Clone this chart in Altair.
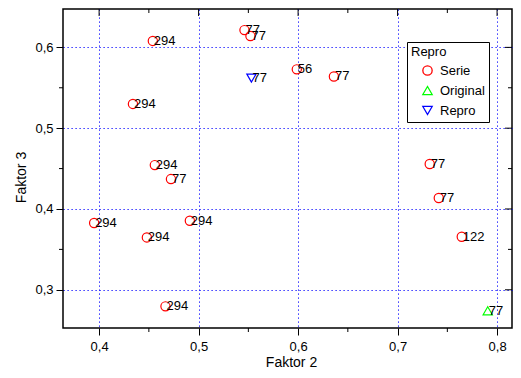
import altair as alt
import pandas as pd

# ---- data ----
serie_x = [0.454, 0.5461, 0.5521, 0.434, 0.5987, 0.636, 0.456, 0.4722, 0.7323,
           0.7414, 0.395, 0.4912, 0.448, 0.7645, 0.4667]
serie_y = [0.608, 0.6214, 0.614, 0.530, 0.5728, 0.564, 0.4543, 0.437, 0.4556,
           0.4136, 0.3827, 0.3855, 0.3648, 0.3657, 0.2795]
serie_lab = ["294", "77", "77", "294", "56", "77", "294", "77", "77",
             "77", "294", "294", "294", "122", "294"]

original_x = [0.7906]
original_y = [0.274]
original_lab = ["77"]

repro_x = [0.5531]
repro_y = [0.562]
repro_lab = ["77"]

series_names = ["Serie", "Original", "Repro"]
series_colors = ["#FF0000", "#00FF00", "#0000FF"]
series_shapes = ["circle", "triangle-up", "triangle-down"]

x_major = [0.4, 0.5, 0.6, 0.7, 0.8]
x_minor = [0.45, 0.55, 0.65, 0.75]
y_major = [0.3, 0.4, 0.5, 0.6]
y_minor = [0.35, 0.45, 0.55]

rows = []
for name, xs_, ys_, ls_ in [("Serie", serie_x, serie_y, serie_lab),
                            ("Original", original_x, original_y, original_lab),
                            ("Repro", repro_x, repro_y, repro_lab)]:
    for a, b, c in zip(xs_, ys_, ls_):
        rows.append({"f2": a, "f3": b, "lab": c, "grp": name})
df = pd.DataFrame(rows)

FONT = "Liberation Sans"
W, H = 449, 319
xscale = alt.Scale(domain=[0.3637, 0.815], nice=False, zero=False)
yscale = alt.Scale(domain=[0.2527, 0.6475], nice=False, zero=False)
lab_expr = "replace(format(datum.value, '.1f'), '.', ',')"
GRID_DASH = [1.2, 2.8]

x_axis = alt.Axis(values=x_major, title="Faktor 2", labelExpr=lab_expr,
                  grid=True, gridColor="#0000FF", gridDash=GRID_DASH, gridWidth=1,
                  domain=False, ticks=True, tickSize=7, tickColor="black", tickWidth=1,
                  labelFont=FONT, labelFontSize=13, labelColor="black",
                  labelBaseline="alphabetic", labelPadding=15,
                  titleFont=FONT, titleFontSize=14, titleFontWeight="normal",
                  titleColor="black", titleBaseline="alphabetic", titleAlign="center",
                  titleX=228, titleY=38)
y_axis = alt.Axis(values=y_major, title="Faktor 3", labelExpr=lab_expr,
                  grid=True, gridColor="#0000FF", gridDash=GRID_DASH, gridWidth=1,
                  domain=False, ticks=True, tickSize=7, tickColor="black", tickWidth=1,
                  labelFont=FONT, labelFontSize=13, labelColor="black",
                  labelBaseline="middle", labelPadding=3,
                  titleFont=FONT, titleFontSize=14, titleFontWeight="normal",
                  titleColor="black", titleBaseline="alphabetic", titleAlign="center",
                  titleAngle=-90, titleX=-38, titleY=168)

legend = alt.Legend(title="Repro", orient="none", legendX=344, legendY=33,
                    strokeColor="black", fillColor="white", padding=4,
                    titleFont=FONT, titleFontSize=13, titleFontWeight="normal",
                    titleColor="black", titlePadding=5,
                    labelFont=FONT, labelFontSize=13, labelColor="black",
                    symbolSize=87, symbolStrokeWidth=1.3, symbolOffset=10,
                    labelOffset=6, rowPadding=5)

base = alt.Chart(df)
points = base.mark_point(filled=False, size=85, strokeWidth=1.2, opacity=1).encode(
    x=alt.X("f2:Q", scale=xscale, axis=x_axis),
    y=alt.Y("f3:Q", scale=yscale, axis=y_axis),
    color=alt.Color("grp:N", scale=alt.Scale(domain=series_names, range=series_colors), legend=legend),
    shape=alt.Shape("grp:N", scale=alt.Scale(domain=series_names, range=series_shapes), legend=legend),
)
labels = base.mark_text(align="left", baseline="middle", dx=1, font=FONT, fontSize=13,
                        color="black").encode(
    x=alt.X("f2:Q", scale=xscale, axis=None),
    y=alt.Y("f3:Q", scale=yscale, axis=None),
    text="lab:N",
)

def xticks(vals, y0, y1):
    return alt.Chart(pd.DataFrame({"t": vals})).mark_rule(color="black", strokeWidth=1).encode(
        x=alt.X("t:Q", scale=xscale, axis=None), y=alt.value(y0), y2=alt.value(y1))

def yticks(vals, x0, x1):
    return alt.Chart(pd.DataFrame({"t": vals})).mark_rule(color="black", strokeWidth=1).encode(
        y=alt.Y("t:Q", scale=yscale, axis=None), x=alt.value(x0), x2=alt.value(x1))

tick_layers = [
    xticks(x_minor, H, H + 4),      # bottom minor (outward)
    xticks(x_major, 0, 7),          # top major (inward)
    xticks(x_minor, 0, 4),          # top minor (inward)
    yticks(y_minor, 0, -4),         # left minor (outward)
    yticks(y_major, W, W - 7),      # right major (inward)
    yticks(y_minor, W, W - 4),      # right minor (inward)
]

chart = alt.layer(points, labels, *tick_layers).resolve_axis(
    x="independent", y="independent"
).properties(
    width=W, height=H,
    autosize=alt.AutoSizeParams(type="none"),
    padding={"left": 55, "top": 1, "right": 1, "bottom": 42},
    background="white",
).configure_view(stroke="black", strokeWidth=1.5)

chart.save("out.html", embed_options={"renderer": "svg", "actions": False})
